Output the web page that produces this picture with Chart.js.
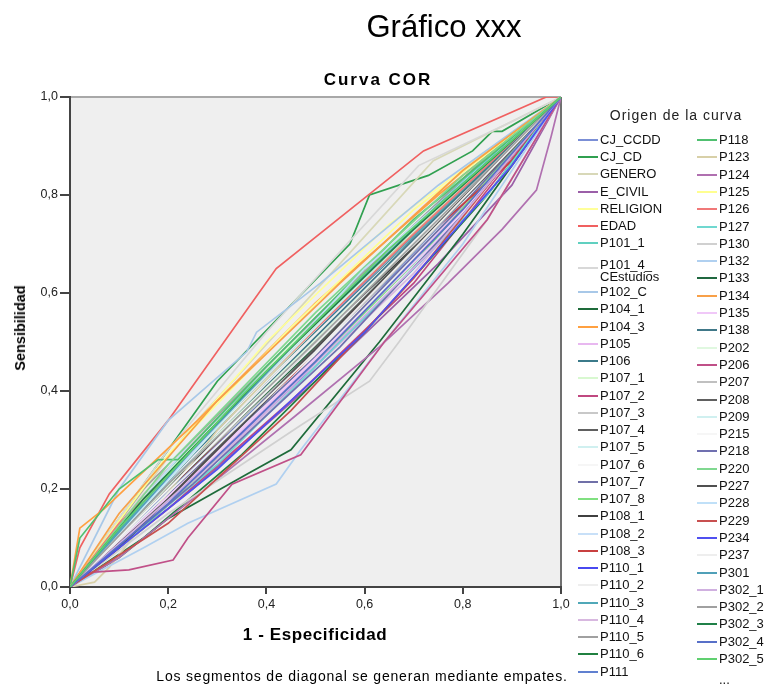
<!DOCTYPE html>
<html>
<head>
<meta charset="utf-8">
<script src="https://cdn.jsdelivr.net/npm/chart.js@4.4.0/dist/chart.umd.min.js"></script>
<style>
  body { margin: 0; background: #fff; font-family: "Liberation Sans", Arial, sans-serif; color: #000; }
  #wrap { position: relative; width: 766px; height: 685px; overflow: hidden; }
  #roc { position: absolute; left: 0; top: 0; }
  .t { position: absolute; white-space: nowrap; transform: translate(-50%, -50%); }
  .sw { position: absolute; width: 20px; height: 2px; }
  .lbl { position: absolute; font-size: 13px; line-height: 12px; white-space: nowrap; color: #111; }
</style>
</head>
<body>
<div id="wrap">
  <canvas id="roc" width="766" height="685"></canvas>
  <div class="t" style="left:444px;top:27px;font-size:31px;">Gráfico xxx</div>
  <div class="t" style="left:378px;top:80px;font-size:17px;font-weight:bold;letter-spacing:2px;">Curva COR</div>
  <div class="t" style="left:20px;top:328px;font-size:14.5px;font-weight:bold;transform:translate(-50%,-50%) rotate(-90deg);">Sensibilidad</div>
  <div class="t" style="left:315px;top:635px;font-size:17px;font-weight:bold;letter-spacing:0.6px;">1 - Especificidad</div>
  <div class="t" style="left:362px;top:676px;font-size:14px;letter-spacing:0.8px;">Los segmentos de diagonal se generan mediante empates.</div>
  <div class="t" style="left:676px;top:115px;font-size:14px;letter-spacing:1px;color:#222;">Origen de la curva</div>
  <div id="leyenda"></div>
</div>
<script>
// variables de la curva COR (orden de la leyenda)
const nombres = [
  "CJ_CCDD", "CJ_CD", "GENERO", "E_CIVIL", "RELIGION", "EDAD", "P101_1", "P101_4_\nCEstudios",
  "P102_C", "P104_1", "P104_3", "P105", "P106", "P107_1", "P107_2", "P107_3", "P107_4", "P107_5",
  "P107_6", "P107_7", "P107_8", "P108_1", "P108_2", "P108_3", "P110_1", "P110_2", "P110_3",
  "P110_4", "P110_5", "P110_6", "P111",
  "P118", "P123", "P124", "P125", "P126", "P127", "P130", "P132", "P133", "P134", "P135", "P138",
  "P202", "P206", "P207", "P208", "P209", "P215", "P218", "P220", "P227", "P228", "P229", "P234",
  "P237", "P301", "P302_1", "P302_2", "P302_3", "P302_4", "P302_5"
];

const colores = [
  "#7b8fd6", "#30a050", "#d8d8b8", "#9b5fa8", "#ffff99", "#f06060", "#60d0c0", "#d8d8d8",
  "#a8c8e8", "#1e6b3a", "#ffa040", "#e8b8f0", "#3b7a8a", "#d8f8d0", "#c04880", "#c8c8c8", "#606060", "#d0f0f0",
  "#f6f6f6", "#7070a8", "#80e080", "#404040", "#c8e0f8", "#c84040", "#4848f0", "#eeeeee", "#50a8b8",
  "#d8b8e0", "#a0a0a0", "#208040", "#6080d0",
  "#50c070", "#d8d0a8", "#b070b0", "#ffff90", "#f07878", "#70d8d0", "#d0d0d0", "#b0d0f0", "#206840", "#f8a048", "#f0c8f8", "#407888",
  "#e0f8e0", "#c05088", "#c0c0c0", "#606060", "#d0f0f0", "#f6f6f6", "#7070b0", "#80d890", "#505050", "#c0e0f8", "#c85050", "#5050f0",
  "#eeeeee", "#50a0b8", "#d0b0e0", "#a0a0a0", "#208048", "#5870c8", "#60d070"
];

// puntos [1 - especificidad, sensibilidad] de cada curva
const curvas = [
  [[0,0],[0.2,0.22],[0.45,0.47],[0.7,0.72],[1,1]],
  [[0,0],[0.1,0.14],[0.3,0.42],[0.57,0.70],[0.61,0.80],[0.73,0.84],[0.82,0.89],[0.86,0.93],[0.88,0.93],[1,1]],
  [[0,0],[0.25,0.33],[0.55,0.66],[0.74,0.87],[1,1]],
  [[0,0],[0.25,0.2],[0.5,0.42],[0.75,0.66],[0.9,0.82],[1,1]],
  [[0,0],[0.15,0.21],[0.4,0.5],[0.65,0.74],[1,1]],
  [[0,0],[0.02,0.08],[0.08,0.19],[0.2,0.34],[0.42,0.65],[0.72,0.89],[0.97,1],[1,1]],
  [[0,0],[0.2,0.24],[0.5,0.55],[0.8,0.83],[1,1]],
  [[0,0],[0.2,0.28],[0.4,0.52],[0.71,0.86],[0.9,0.95],[1,1]],
  [[0,0],[0.1,0.2],[0.2,0.34],[0.36,0.48],[0.38,0.52],[0.51,0.62],[0.75,0.82],[1,1]],
  [[0,0],[0.1,0.06],[0.2,0.14],[0.36,0.23],[0.45,0.28],[0.63,0.5],[0.8,0.72],[1,1]],
  [[0,0],[0.02,0.12],[0.07,0.16],[0.26,0.34],[0.5,0.58],[0.75,0.8],[1,1]],
  [[0,0],[0.3,0.27],[0.6,0.56],[0.85,0.83],[1,1]],
  [[0,0],[0.25,0.27],[0.5,0.52],[0.75,0.76],[1,1]],
  [[0,0],[0.3,0.35],[0.6,0.64],[1,1]],
  [[0,0],[0.2,0.16],[0.45,0.38],[0.7,0.62],[1,1]],
  [[0,0],[0.15,0.19],[0.45,0.5],[0.8,0.82],[1,1]],
  [[0,0],[0.3,0.3],[0.6,0.6],[1,1]],
  [[0,0],[0.35,0.3],[0.65,0.6],[1,1]],
  [[0,0],[0.5,0.5],[1,1]],
  [[0,0],[0.2,0.19],[0.5,0.47],[0.8,0.78],[1,1]],
  [[0,0],[0.15,0.12],[0.4,0.36],[0.7,0.66],[1,1]],
  [[0,0],[0.1,0.1],[0.4,0.41],[0.75,0.74],[1,1]],
  [[0,0],[0.25,0.3],[0.55,0.6],[1,1]],
  [[0,0],[0.2,0.2],[0.45,0.43],[0.72,0.71],[0.9,0.87],[1,1]],
  [[0,0],[0.25,0.22],[0.5,0.45],[0.75,0.7],[1,1]],
  [[0,0],[0.4,0.42],[1,1]],
  [[0,0],[0.2,0.23],[0.5,0.53],[0.8,0.81],[1,1]],
  [[0,0],[0.3,0.26],[0.7,0.64],[1,1]],
  [[0,0],[0.15,0.2],[0.5,0.55],[0.85,0.88],[1,1]],
  [[0,0],[0.15,0.1],[0.35,0.27],[0.6,0.52],[0.85,0.8],[1,1]],
  [[0,0],[0.3,0.29],[0.65,0.63],[1,1]],
  [[0,0],[0.02,0.1],[0.1,0.2],[0.18,0.26],[0.22,0.26],[0.4,0.45],[0.7,0.75],[1,1]],
  [[0,0],[0.05,0.01],[0.08,0.04],[0.3,0.32],[0.6,0.63],[1,1]],
  [[0,0],[0.1,0.06],[0.3,0.22],[0.46,0.35],[0.63,0.49],[0.77,0.62],[0.88,0.73],[0.95,0.81],[0.98,0.92],[1,1]],
  [[0,0],[0.2,0.27],[0.45,0.53],[0.7,0.77],[1,1]],
  [[0,0],[0.1,0.13],[0.4,0.43],[0.7,0.72],[1,1]],
  [[0,0],[0.3,0.25],[0.6,0.55],[0.85,0.8],[1,1]],
  [[0,0],[0.2,0.15],[0.47,0.33],[0.61,0.42],[0.67,0.5],[0.85,0.75],[1,1]],
  [[0,0],[0.15,0.08],[0.24,0.13],[0.42,0.21],[0.47,0.28],[0.64,0.5],[0.8,0.7],[1,1]],
  [[0,0],[0.2,0.2],[0.5,0.49],[0.8,0.79],[1,1]],
  [[0,0],[0.1,0.15],[0.3,0.38],[0.55,0.62],[0.8,0.85],[1,1]],
  [[0,0],[0.4,0.37],[0.75,0.71],[1,1]],
  [[0,0],[0.15,0.16],[0.45,0.46],[0.7,0.71],[1,1]],
  [[0,0],[0.3,0.31],[0.7,0.7],[1,1]],
  [[0,0],[0.04,0.03],[0.12,0.035],[0.21,0.055],[0.24,0.1],[0.33,0.21],[0.47,0.27],[0.64,0.5],[0.85,0.75],[1,1]],
  [[0,0],[0.25,0.25],[0.6,0.58],[1,1]],
  [[0,0],[0.2,0.18],[0.55,0.54],[0.85,0.84],[1,1]],
  [[0,0],[0.35,0.38],[0.7,0.73],[1,1]],
  [[0,0],[0.6,0.6],[1,1]],
  [[0,0],[0.25,0.21],[0.55,0.49],[0.8,0.76],[1,1]],
  [[0,0],[0.2,0.25],[0.5,0.56],[0.8,0.84],[1,1]],
  [[0,0],[0.1,0.08],[0.35,0.33],[0.65,0.64],[1,1]],
  [[0,0],[0.3,0.33],[0.6,0.65],[1,1]],
  [[0,0],[0.2,0.13],[0.45,0.36],[0.7,0.63],[0.9,0.88],[1,1]],
  [[0,0],[0.3,0.24],[0.6,0.52],[0.9,0.86],[1,1]],
  [[0,0],[0.5,0.48],[1,1]],
  [[0,0],[0.25,0.28],[0.5,0.54],[0.75,0.78],[1,1]],
  [[0,0],[0.35,0.31],[0.75,0.7],[1,1]],
  [[0,0],[0.2,0.21],[0.5,0.5],[0.8,0.8],[1,1]],
  [[0,0],[0.15,0.18],[0.4,0.44],[0.7,0.73],[1,1]],
  [[0,0],[0.2,0.17],[0.5,0.46],[0.8,0.77],[1,1]],
  [[0,0],[0.1,0.12],[0.35,0.39],[0.65,0.69],[1,1]]
];

const ticksEje = [0, 0.2, 0.4, 0.6, 0.8, 1];

function coma(v) {
  return v.toFixed(1).replace(".", ",");
}

// fondo gris y marco del area de trazado
const marco = {
  id: "marco",
  beforeDraw(chart) {
    const { ctx, chartArea: a } = chart;
    ctx.save();
    ctx.fillStyle = "#efefef";
    ctx.fillRect(a.left, a.top, a.right - a.left, a.bottom - a.top);
    ctx.lineWidth = 2;
    ctx.strokeStyle = "#a8a8a8";
    ctx.beginPath();
    ctx.moveTo(a.left, a.top);
    ctx.lineTo(a.right, a.top);
    ctx.stroke();
    ctx.strokeStyle = "#707070";
    ctx.beginPath();
    ctx.moveTo(a.right, a.top);
    ctx.lineTo(a.right, a.bottom);
    ctx.stroke();
    ctx.restore();
  }
};

const datasets = curvas.map((pts, i) => ({
  label: nombres[i].replace("\n", ""),
  data: pts.map(p => ({ x: p[0], y: p[1] })),
  borderColor: colores[i],
  borderWidth: 1.7,
  pointRadius: 0,
  showLine: true,
  tension: 0,
  order: curvas.length - i
}));

const fuenteTicks = { family: "'Liberation Sans', Arial, sans-serif", size: 12.5 };

new Chart(document.getElementById("roc"), {
  type: "scatter",
  data: { datasets },
  options: {
    responsive: false,
    animation: false,
    layout: { padding: { top: 97, right: 205, bottom: 58, left: 0 } },
    plugins: { legend: { display: false }, tooltip: { enabled: false } },
    scales: {
      x: {
        type: "linear",
        min: 0,
        max: 1,
        afterFit: s => { s.height = 40; },
        afterBuildTicks: s => { s.ticks = ticksEje.map(v => ({ value: v })); },
        border: { color: "#444", width: 2 },
        grid: { drawOnChartArea: false, drawTicks: true, tickLength: 7, color: "#444", lineWidth: 2 },
        ticks: { color: "#222", font: fuenteTicks, padding: 3, callback: v => coma(v), maxRotation: 0 }
      },
      y: {
        type: "linear",
        min: 0,
        max: 1,
        afterFit: s => { s.width = 70; },
        afterBuildTicks: s => { s.ticks = ticksEje.map(v => ({ value: v })); },
        border: { color: "#444", width: 2 },
        grid: { drawOnChartArea: false, drawTicks: true, tickLength: 10, color: "#444", lineWidth: 2 },
        ticks: { color: "#222", font: fuenteTicks, padding: 2, callback: v => coma(v) }
      }
    }
  },
  plugins: [marco]
});

// leyenda en dos columnas, como en la salida de SPSS
function filaY(i) {
  if (i < 31) {
    if (i < 7) return 140 + 17.2 * i;
    if (i === 7) return 268;
    return 292 + 17.25 * (i - 8);
  }
  return 140 + 17.3 * (i - 31);
}

const leyenda = document.getElementById("leyenda");
let html = "";
nombres.forEach((n, i) => {
  const col2 = i >= 31;
  const x = col2 ? 697 : 578;
  const y = filaY(i);
  html += `<div class="sw" style="left:${x}px;top:${(y - 1).toFixed(1)}px;background:${colores[i]}"></div>`;
  const lineas = n.split("\n");
  const top = y - (lineas.length * 12) / 2 + (lineas.length > 1 ? 3 : 0);
  html += `<div class="lbl" style="left:${x + 22}px;top:${top.toFixed(1)}px">${lineas.join("<br>")}</div>`;
});
html += `<div class="lbl" style="left:719px;top:674px">...</div>`;
leyenda.innerHTML = html;
</script>
</body>
</html>
